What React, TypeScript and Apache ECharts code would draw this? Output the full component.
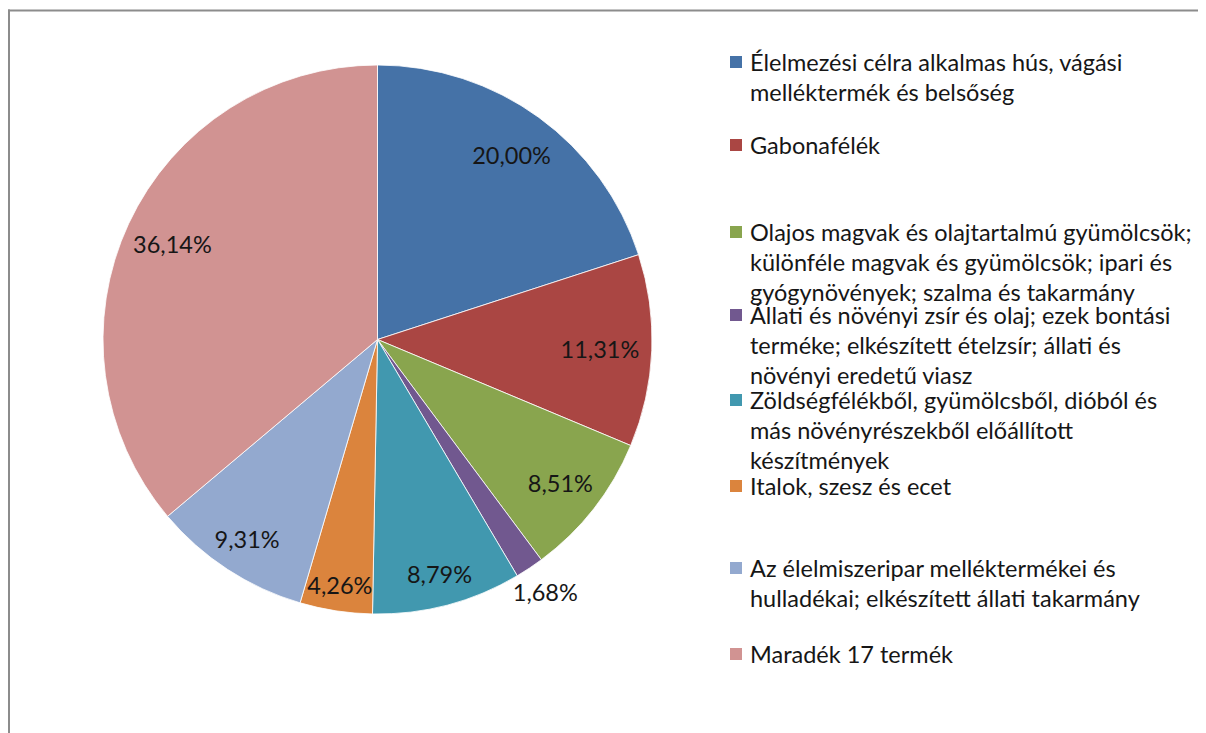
import React, { useEffect, useRef } from "react";
import * as echarts from "echarts";

const categories: string[] = [
  "Élelmezési célra alkalmas hús, vágási\nmelléktermék és belsőség",
  "Gabonafélék",
  "Olajos magvak és olajtartalmú gyümölcsök;\nkülönféle magvak és gyümölcsök; ipari és\ngyógynövények; szalma és takarmány",
  "Állati és növényi zsír és olaj; ezek bontási\nterméke; elkészített ételzsír; állati és\nnövényi eredetű viasz",
  "Zöldségfélékből, gyümölcsből, dióból és\nmás növényrészekből előállított\nkészítmények",
  "Italok, szesz és ecet",
  "Az élelmiszeripar melléktermékei és\nhulladékai; elkészített állati takarmány",
  "Maradék 17 termék",
];

const shares: number[] = [20.0, 11.31, 8.51, 1.68, 8.79, 4.26, 9.31, 36.14];

const colors: string[] = [
  "#4572A7",
  "#AA4643",
  "#89A54E",
  "#71588F",
  "#4198AF",
  "#DB843D",
  "#93A9CF",
  "#D19392",
];

// layout only: radial position of each label as a fraction of the radius
const labelRadius: number[] = [0.82, 0.8, 0.835, 1.093, 0.874, 0.894, 0.858, 0.813];
// layout only: top of each legend slot (px)
const legendTops: number[] = [39, 122, 209, 292, 377, 463, 545, 631];

const FONT = "Lato";
const TEXT_COLOR = "#161616";
const FS = 23.5;
const LH = 30;
const CENTER: [number, number] = [369.5, 331.5];
const R = 274.5;

const fmtPct = (v: number) => v.toFixed(2).replace(".", ",") + "%";

export default function App() {
  const ref = useRef<HTMLDivElement>(null);

  useEffect(() => {
    if (!ref.current) return;
    document.documentElement.style.overflow = "hidden";
    document.body.style.overflow = "hidden";
    const chart = echarts.init(ref.current, undefined, { renderer: "svg" });

    const mainData = shares.map((v, i) => ({
      value: v,
      name: categories[i],
      itemStyle: { color: colors[i] },
    }));

    const labelSeries = shares.map((_, i) => {
      const f = labelRadius[i];
      const radius = f < 1 ? [(2 * f - 1) * R, R] : [R, (2 * f - 1) * R];
      return {
        type: "pie",
        center: CENTER,
        radius,
        silent: true,
        avoidLabelOverlap: false,
        itemStyle: { color: "rgba(0,0,0,0)", borderWidth: 0 },
        labelLine: { show: false },
        emphasis: { disabled: true },
        z: 5,
        label: {
          show: true,
          position: "inside",
          color: TEXT_COLOR,
          fontFamily: FONT,
          fontSize: FS,
          formatter: (p: any) => fmtPct(p.value),
        },
        data: shares.map((v, j) => ({
          value: v,
          name: categories[j],
          label: { show: j === i },
        })),
      };
    });

    const legends = categories.map((c, i) => ({
      data: [c],
      top: legendTops[i],
      left: 717,
      orient: "vertical",
      padding: 0,
      icon: "none",
      itemWidth: 0,
      itemHeight: 20,
      selectedMode: false,
      formatter: (name: string) => {
        const lines = name.split("\n");
        return lines
          .map((ln, k) =>
            k === 0 ? `{m| }{g| }{t|${ln}}` : `{i| }{t|${ln}}`
          )
          .join("\n");
      },
      textStyle: {
        fontFamily: FONT,
        fontSize: FS,
        color: TEXT_COLOR,
        lineHeight: LH,
        rich: {
          m: {
            width: 12,
            height: 12,
            backgroundColor: colors[i],
            lineHeight: LH,
            fontSize: 1,
          },
          g: { width: 8, lineHeight: LH, fontSize: 1 },
          i: { width: 20, lineHeight: LH, fontSize: 1 },
          t: {
            fontFamily: FONT,
            fontSize: FS,
            color: TEXT_COLOR,
            lineHeight: LH,
          },
        },
      },
    }));

    chart.setOption({
      animation: false,
      backgroundColor: "#ffffff",
      graphic: [
        {
          type: "line",
          silent: true,
          z: -10,
          shape: { x1: 1, y1: 1.5, x2: 1, y2: 2000 },
          style: { stroke: "#8c8c8c", lineWidth: 2 },
        },
        {
          type: "line",
          silent: true,
          z: -10,
          shape: { x1: 0, y1: 2.5, x2: 2000, y2: 2.5 },
          style: { stroke: "#8c8c8c", lineWidth: 2 },
        },
      ],
      legend: legends,
      series: [
        {
          type: "pie",
          center: CENTER,
          radius: [0, R],
          startAngle: 90,
          clockwise: true,
          silent: true,
          label: { show: false },
          labelLine: { show: false },
          itemStyle: { borderColor: "#ffffff", borderWidth: 0.8 },
          emphasis: { disabled: true },
          data: mainData,
        },
        ...labelSeries,
      ],
    });

    return () => chart.dispose();
  }, []);

  return <div ref={ref} style={{ width: 1190, height: 725 }} />;
}
